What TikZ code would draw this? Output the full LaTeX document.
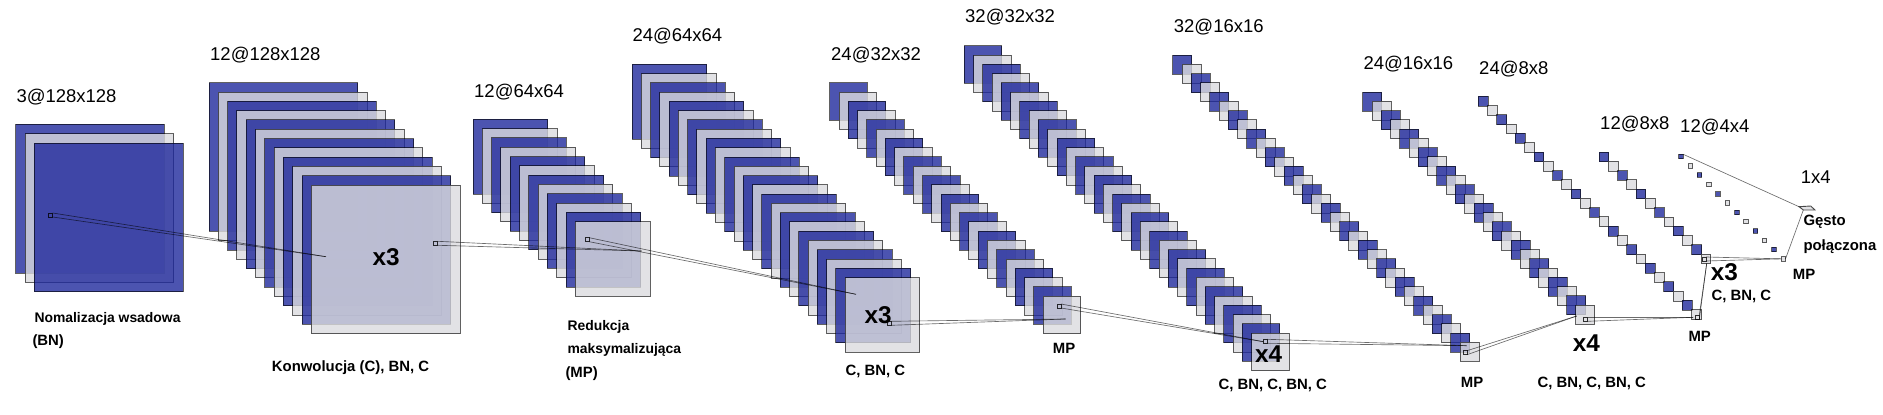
\documentclass[tikz,border=0pt]{standalone}
\usepackage{fontspec}
\setmainfont{Liberation Sans}
\definecolor{layblue}{RGB}{31,41,156}
\definecolor{laygray}{RGB}{219,219,222}
\tikzset{
  layerbase/.style={anchor=north west,inner sep=0pt,outer sep=0pt,line width=0.9pt,draw=black,draw opacity=0.62,fill opacity=0.8},
  blueplane/.style={layerbase,fill=layblue},
  grayplane/.style={layerbase,fill=laygray},
  probe/.style={anchor=north west,inner sep=0pt,outer sep=0pt,minimum size=4pt,draw=black,line width=0.8pt,draw opacity=0.8},
  funnel/.style={draw=black,line width=0.65pt,draw opacity=0.58},
  dimlabel/.style={anchor=base west,inner sep=0pt,font=\fontsize{18.5}{20}\selectfont},
  oplabel/.style={anchor=base west,inner sep=0pt,font=\bfseries\fontsize{13.9}{16}\selectfont},
  oplabelwide/.style={anchor=base west,inner sep=0pt,font=\bfseries\fontsize{14.9}{16}\selectfont},
  multlabel/.style={anchor=base west,inner sep=0pt,font=\bfseries\fontsize{24.3}{26}\selectfont}
}
% name, x, y, side, layers, step
\newcommand{\planestack}[6]{%
  \foreach \k in {1,...,#5}{%
    \pgfmathsetmacro{\px}{#2+(\k-1)*#6}%
    \pgfmathsetmacro{\py}{#3+(\k-1)*#6}%
    \pgfmathtruncatemacro{\odd}{mod(\k,2)}%
    \ifnum\odd=1
      \node[blueplane,minimum size=#4pt] (#1-\k) at (\px,\py) {};
    \else
      \node[grayplane,minimum size=#4pt] (#1-\k) at (\px,\py) {};
    \fi
  }%
}
\newcommand{\funnelto}[2]{%
  \draw[funnel] (#1.north east) -- (#2);
  \draw[funnel] (#1.south east) -- (#2);
}
\begin{document}
\begin{tikzpicture}[x=1pt,y=-1pt]
\useasboundingbox (0,0) rectangle (1883,415);
% stacks
\planestack{sa}{15.7}{124.3}{148.7}{3}{9.33}
\planestack{sb}{209}{82.7}{148.7}{12}{9.3}
\planestack{sc}{473}{119.3}{74.7}{12}{9.3}
\planestack{sd}{632}{64.3}{74.7}{24}{9.27}
\planestack{se}{829.7}{82.7}{37.5}{24}{9.28}
\planestack{sf}{964.3}{45.7}{37.5}{32}{9.27}
\planestack{sg}{1172.7}{55}{19}{32}{9.27}
\planestack{sh}{1362.7}{92}{19}{24}{9.27}
\planestack{si}{1478.3}{96.3}{9.8}{24}{9.28}
\planestack{sj}{1599}{152}{9.7}{12}{9.28}
\planestack{sk}{1678.7}{154.3}{4.5}{12}{9.3}
% dense layer
\coordinate (da) at (1799,206.7);
\coordinate (db) at (1810.7,206);
\coordinate (dc) at (1815,210);
\coordinate (dd) at (1803.3,210);
\draw[line width=0.9pt,draw=black,draw opacity=0.7,fill=laygray,fill opacity=0.8] (da) -- (db) -- (dc) -- (dd) -- cycle;
% probes
\node[probe] (pa) at (48.7,213) {};
\node[probe] (pb) at (433.7,241.3) {};
\node[probe] (pc) at (585.3,237.7) {};
\node[probe] (pd) at (887.3,321.3) {};
\node[probe] (pe) at (1057,304) {};
\node[probe] (pf) at (1263.3,339.3) {};
\node[probe] (pg) at (1463,350.7) {};
\node[probe] (ph) at (1583.7,317.3) {};
\node[probe] (pi) at (1695.3,315.3) {};
\node[probe] (pj) at (1702,257) {};
% funnel apexes
\coordinate (aa) at (326,256.7);
\coordinate (ab) at (641.7,251);
\coordinate (ac) at (856,294.3);
\coordinate (ad) at (1065.7,319);
\coordinate (ae) at (1263.3,341.7);
\coordinate (af) at (1466.7,345.7);
\coordinate (ag) at (1576.7,316);
\coordinate (ah) at (1693.3,317.3);
\coordinate (ai) at (1706.7,263.3);
% connectors
\funnelto{pa}{aa}
\funnelto{pb}{ab}
\funnelto{pc}{ac}
\funnelto{pd}{ad}
\funnelto{pe}{ae}
\funnelto{pf}{af}
\funnelto{pg}{ag}
\funnelto{ph}{ah}
\funnelto{pi}{ai}
\funnelto{pj}{sk-12.west}
\draw[funnel] (sk-1.north east) -- (da);
\draw[funnel] (sk-12.east) -- (dd);
% dimension labels
\node[dimlabel] (ta) at (16.3,102) {3@128x128};
\node[dimlabel] (tb) at (210,60) {12@128x128};
\node[dimlabel] (tc) at (474,97) {12@64x64};
\node[dimlabel] (td) at (632.3,41) {24@64x64};
\node[dimlabel] (te) at (831,60) {24@32x32};
\node[dimlabel] (tf) at (965,23) {32@32x32};
\node[dimlabel] (tg) at (1173.7,32) {32@16x16};
\node[dimlabel] (th) at (1363.3,69) {24@16x16};
\node[dimlabel] (ti) at (1479,74) {24@8x8};
\node[dimlabel] (tj) at (1600,129.7) {12@8x8};
\node[dimlabel] (tk) at (1680,132) {12@4x4};
\node[dimlabel] (tl) at (1800.7,183) {1x4};
% operation labels
\node[oplabel] (oa) at (34.3,322.7) {Nomalizacja wsadowa};
\node[oplabelwide] (ob) at (32.3,345) {(BN)};
\node[oplabelwide] (oc) at (271.7,371) {Konwolucja (C), BN, C};
\node[oplabel] (od) at (567.3,330) {Redukcja};
\node[oplabel] (oe) at (567.3,353.3) {maksymalizująca};
\node[oplabelwide] (of) at (565.3,377) {(MP)};
\node[oplabelwide] (og) at (845.3,375.3) {C, BN, C};
\node[oplabelwide] (oh) at (1052.7,353.3) {MP};
\node[oplabelwide] (oi) at (1218.3,389.3) {C, BN, C, BN, C};
\node[oplabelwide] (oj) at (1460.7,387.3) {MP};
\node[oplabelwide] (ok) at (1537.3,387.3) {C, BN, C, BN, C};
\node[oplabelwide] (ol) at (1688.3,341) {MP};
\node[oplabelwide] (om) at (1711.3,300) {C, BN, C};
\node[oplabelwide] (on) at (1792.7,279) {MP};
\node[oplabelwide] (oo) at (1803.3,225) {Gęsto};
\node[oplabelwide] (op) at (1803.3,250) {połączona};
% multipliers
\node[multlabel] (xa) at (372.3,265.7) {x3};
\node[multlabel] (xb) at (864.3,323) {x3};
\node[multlabel] (xc) at (1255,362.3) {x4};
\node[multlabel] (xd) at (1572.7,351.7) {x4};
\node[multlabel] (xe) at (1710.7,280.7) {x3};
\end{tikzpicture}
\end{document}
